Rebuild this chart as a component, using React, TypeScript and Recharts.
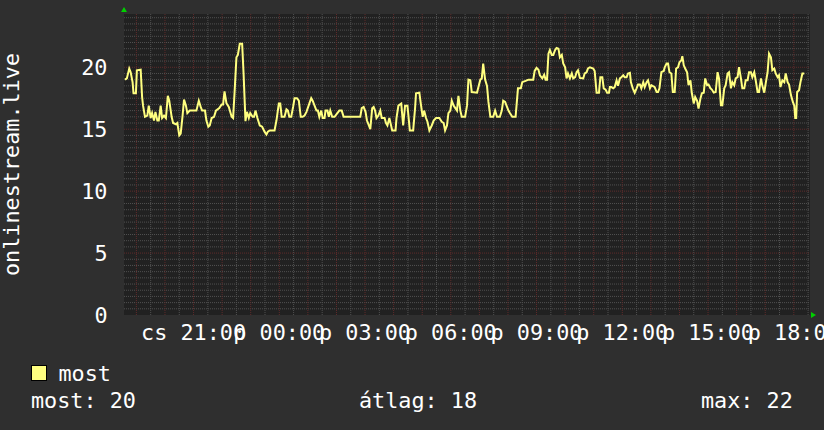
import {
  LineChart,
  Line,
  XAxis,
  YAxis,
  ReferenceArea,
  ReferenceLine,
  ReferenceDot,
} from "recharts";

// minutes since cs 18:34, one point per change
const minutes = [
  2, 6, 11, 14, 18, 20, 25, 27, 35, 38, 40, 44, 49, 52, 56, 59, 63, 66, 70, 73,
  77, 80, 84, 88, 92, 95, 100, 103, 109, 112, 116, 119, 123, 126, 130, 133, 138,
  152, 157, 161, 164, 170, 173, 177, 180, 184, 189, 193, 200, 205, 208, 211, 215,
  220, 226, 229, 232, 236, 239, 243, 248, 251, 255, 258, 262, 265, 270, 273, 276,
  280, 285, 290, 295, 299, 302, 306, 316, 320, 325, 328, 331, 337, 341, 344, 347,
  351, 355, 358, 363, 367, 371, 375, 379, 383, 389, 393, 396, 400, 404, 407, 410,
  414, 417, 421, 423, 427, 430, 433, 437, 442, 452, 457, 461, 496, 499, 503, 507,
  510, 514, 517, 521, 524, 527, 530, 534, 538, 541, 547, 550, 553, 557, 563, 570,
  572, 576, 582, 586, 590, 595, 600, 607, 611, 613, 620, 623, 627, 630, 634, 637,
  641, 646, 650, 655, 662, 667, 671, 674, 678, 681, 685, 688, 692, 699, 702, 706,
  709, 716, 720, 723, 727, 730, 741, 744, 748, 751, 754, 758, 762, 765, 769, 775,
  779, 783, 789, 793, 796, 800, 803, 807, 810, 815, 822, 827, 833, 836, 843, 849,
  859, 862, 866, 870, 873, 878, 882, 885, 888, 891, 894, 898, 901, 905, 908, 912,
  915, 919, 922, 926, 929, 932, 936, 940, 943, 947, 950, 953, 957, 964, 967, 971,
  974, 978, 985, 988, 992, 997, 1000, 1004, 1007, 1011, 1014, 1018, 1020, 1023,
  1027, 1030, 1034, 1037, 1041, 1044, 1048, 1051, 1055, 1058, 1062, 1064, 1068,
  1072, 1076, 1079, 1083, 1086, 1090, 1093, 1097, 1100, 1104, 1107, 1114, 1118,
  1121, 1124, 1128, 1133, 1135, 1139, 1142, 1145, 1149, 1152, 1156, 1159, 1163,
  1166, 1170, 1172, 1175, 1178, 1182, 1185, 1189, 1192, 1196, 1199, 1203, 1206,
  1210, 1213, 1217, 1220, 1224, 1227, 1231, 1234, 1238, 1242, 1246, 1249, 1253,
  1256, 1260, 1263, 1267, 1270, 1274, 1277, 1281, 1284, 1288, 1291, 1295, 1298,
  1302, 1305, 1309, 1312, 1316, 1319, 1323, 1326, 1330, 1333, 1337, 1340, 1344,
  1347, 1351, 1354, 1358, 1361, 1365, 1368, 1372, 1375, 1378, 1382, 1386, 1389,
  1393, 1396, 1400, 1404, 1407, 1409, 1411, 1413, 1417, 1420, 1424, 1428,
];

const viewers = [
  19.0, 19.1, 19.9, 19.6, 18.8, 17.9, 17.9, 19.75, 19.8, 17.6, 16.9, 16.0, 16.1,
  16.9, 15.9, 16.3, 15.7, 16.4, 15.7, 15.7, 16.9, 15.9, 16.1, 15.9, 17.7, 17.3,
  16.0, 15.5, 15.4, 15.5, 14.5, 14.65, 16.1, 17.4, 16.9, 16.3, 16.5, 16.5, 17.3,
  16.8, 16.5, 16.5, 15.7, 15.2, 15.3, 15.9, 16.0, 16.5, 16.7, 17.0, 17.0, 18.05,
  17.1, 16.8, 16.0, 15.9, 17.9, 20.8, 21.0, 21.9, 21.9, 19.5, 15.65, 16.4, 15.9,
  16.3, 16.0, 16.0, 16.5, 15.9, 15.3, 15.2, 14.8, 14.57, 14.8, 14.9, 14.9, 15.7,
  17.07, 17.07, 16.0, 16.0, 16.6, 16.5, 16.0, 16.0, 16.8, 17.5, 17.5, 17.3, 16.0,
  16.0, 16.1, 16.4, 17.07, 17.5, 17.3, 16.9, 16.5, 16.5, 16.0, 16.5, 15.9, 15.9,
  16.5, 16.5, 16.0, 16.5, 16.0, 16.0, 16.5, 16.5, 16.0, 16.0, 16.7, 16.8, 16.4,
  15.7, 15.3, 15.0, 16.7, 16.8, 16.5, 15.9, 16.1, 16.5, 15.9, 15.9, 15.5, 15.3,
  15.9, 14.9, 14.9, 15.9, 16.9, 17.07, 15.3, 16.9, 16.9, 14.9, 14.9, 16.7, 17.9,
  17.95, 17.07, 16.0, 16.5, 15.9, 15.6, 14.9, 15.3, 15.7, 15.9, 15.9, 15.6, 15.5,
  14.9, 15.3, 16.3, 16.5, 17.3, 16.9, 16.5, 17.7, 16.5, 16.0, 16.0, 16.9, 19.0,
  18.95, 18.0, 17.95, 18.4, 19.0, 19.1, 20.3, 19.0, 18.5, 17.2, 16.0, 16.0, 16.5,
  16.0, 16.0, 16.5, 17.3, 17.2, 16.9, 16.5, 16.3, 16.0, 16.0, 18.3, 18.3, 18.8,
  18.9, 19.0, 19.0, 19.7, 19.95, 19.8, 19.35, 19.1, 19.4, 19.0, 19.0, 21.1, 21.4,
  21.0, 21.0, 21.4, 21.56, 21.5, 20.8, 21.0, 20.3, 20.0, 19.1, 19.5, 19.1, 19.5,
  19.1, 19.2, 19.6, 19.76, 19.14, 19.1, 19.5, 19.6, 19.9, 20.0, 19.9, 19.7, 17.95,
  17.95, 19.2, 19.2, 18.3, 18.2, 17.95, 17.95, 18.4, 18.4, 18.3, 18.4, 18.95,
  18.5, 19.1, 19.2, 19.35, 19.2, 19.2, 19.5, 19.55, 18.8, 18.3, 17.95, 18.3, 18.6,
  18.6, 18.3, 18.8, 18.4, 18.8, 18.95, 18.3, 18.55, 18.4, 18.0, 18.0, 18.3, 19.6,
  19.7, 20.0, 20.3, 20.3, 19.6, 19.5, 18.0, 18.0, 19.9, 20.0, 20.4, 20.56, 20.9,
  20.16, 19.9, 19.6, 18.55, 18.95, 17.9, 17.07, 17.6, 17.3, 16.67, 17.47, 17.9,
  17.95, 19.1, 18.55, 18.6, 18.3, 18.2, 17.95, 18.0, 19.6, 19.1, 16.94, 16.94,
  18.3, 18.55, 19.5, 19.6, 18.3, 18.8, 18.55, 19.1, 19.2, 20.0, 19.1, 18.3, 18.3,
  18.95, 18.95, 19.6, 19.6, 19.2, 19.6, 18.95, 18.0, 18.0, 19.1, 18.5, 17.95, 18.7,
  19.6, 21.1, 20.8, 19.76, 19.9, 19.5, 19.2, 19.35, 18.4, 18.95, 18.8, 19.5, 18.8,
  18.6, 17.75, 17.2, 16.9, 15.9, 15.9, 18.0, 18.15, 18.8, 19.5, 19.5,
];

const tickMinutes = [146, 326, 506, 686, 866, 1046, 1226, 1406];
const tickLabels = [
  "cs 21:00",
  "p 00:00",
  "p 03:00",
  "p 06:00",
  "p 09:00",
  "p 12:00",
  "p 15:00",
  "p 18:00",
];
const yTicks = [0, 5, 10, 15, 20];

const seriesName = "most";
const yTitle = "onlinestream.live";
const lastValue = 20;
const avgValue = 18;
const maxValue = 22;

const SPAN = 1440;
const Y_MAX = 24.3;
const FONT = "'DejaVu Sans Mono', monospace";
const FS = 21.8;

const data = minutes.map((t, i) => ({ t, v: viewers[i] }));

// grid: minor every 30 min / 0.5, major every hour / 5
const hourLines: number[] = [];
const halfLines: number[] = [];
for (let m = 26; m <= SPAN; m += 60) hourLines.push(m);
for (let m = 56; m <= SPAN; m += 60) halfLines.push(m);
const minorY: number[] = [];
for (let k = 1; k <= 48; k++) if (k % 10 !== 0) minorY.push(k / 2);
const majorY = [5, 10, 15, 20];

const MINOR = "#505050";
const MAJOR = "#5f2b2b";

function XTick(props: any) {
  const { x, y, payload } = props;
  const label = tickLabels[tickMinutes.indexOf(payload.value)];
  return (
    <text x={x} y={y} dy={24.5} textAnchor="middle" fill="#fff" fontFamily={FONT} fontSize={FS}>
      {label}
    </text>
  );
}

function YTick(props: any) {
  const { x, y, payload } = props;
  return (
    <text x={x} y={y} dy={8} textAnchor="end" fill="#fff" fontFamily={FONT} fontSize={FS}>
      {payload.value}
    </text>
  );
}

export default function App() {
  return (
    <div
      style={{
        position: "absolute",
        left: 0,
        top: 0,
        width: 824,
        height: 430,
        background: "#2f2f2f",
        fontFamily: FONT,
        color: "#fff",
      }}
    >
      <LineChart
        width={824}
        height={430}
        data={data}
        margin={{ top: 14, right: 14, bottom: 85, left: 0 }}
      >
        <XAxis
          dataKey="t"
          type="number"
          domain={[0, SPAN]}
          ticks={tickMinutes}
          interval={0}
          allowDataOverflow
          axisLine={false}
          tickLine={false}
          tickSize={0}
          tickMargin={0}
          height={30}
          tick={<XTick />}
        />
        <YAxis
          type="number"
          domain={[0, Y_MAX]}
          ticks={yTicks}
          interval={0}
          allowDataOverflow
          width={124}
          axisLine={false}
          tickLine={false}
          tickSize={0}
          tickMargin={16.5}
          tick={<YTick />}
          label={() => (
            <text
              x={18.5}
              y={164.5}
              transform="rotate(-90 18.5 164.5)"
              textAnchor="middle"
              fill="#fff"
              fontFamily={FONT}
              fontSize={FS}
            >
              {yTitle}
            </text>
          )}
        />
        <ReferenceArea x1={0} x2={SPAN} y1={0} y2={Y_MAX} fill="#212121" fillOpacity={1} stroke="none" />
        {minorY.map((v) => (
          <ReferenceLine key={`my${v}`} y={v} stroke={MINOR} strokeDasharray="1 1" />
        ))}
        {halfLines.map((m) => (
          <ReferenceLine key={`mx${m}`} x={m} stroke={MINOR} strokeDasharray="1 1" />
        ))}
        {majorY.map((v) => (
          <ReferenceLine key={`My${v}`} y={v} stroke={MAJOR} strokeDasharray="1 1" />
        ))}
        {hourLines.map((m) => (
          <ReferenceLine key={`Mx${m}`} x={m} stroke={MAJOR} strokeDasharray="1 1" />
        ))}
        <Line
          dataKey="v"
          type="linear"
          stroke="#ffff80"
          strokeWidth={2}
          dot={false}
          isAnimationActive={false}
        />
        <ReferenceDot
          x={0}
          y={Y_MAX}
          ifOverflow="visible"
          shape={(p: any) => (
            <polygon
              points={`${p.cx - 3},${p.cy - 2} ${p.cx + 3},${p.cy - 2} ${p.cx},${p.cy - 7}`}
              fill="#00d000"
            />
          )}
        />
        <ReferenceDot
          x={SPAN}
          y={0}
          ifOverflow="visible"
          shape={(p: any) => (
            <polygon
              points={`${p.cx + 1},${p.cy - 3} ${p.cx + 1},${p.cy + 3} ${p.cx + 6},${p.cy}`}
              fill="#00d000"
            />
          )}
        />
      </LineChart>
      <div
        style={{
          position: "absolute",
          left: 31,
          top: 365,
          width: 14,
          height: 14,
          background: "#ffff80",
          border: "1px solid #000",
        }}
      />
      <div style={{ position: "absolute", left: 58.5, top: 362.6, fontSize: FS, lineHeight: 1, whiteSpace: "pre" }}>
        {seriesName}
      </div>
      <div style={{ position: "absolute", left: 31, top: 390.3, fontSize: FS, lineHeight: 1, whiteSpace: "pre" }}>
        {`most: ${lastValue}`}
      </div>
      <div style={{ position: "absolute", left: 359, top: 390.3, fontSize: FS, lineHeight: 1, whiteSpace: "pre" }}>
        {`átlag: ${avgValue}`}
      </div>
      <div style={{ position: "absolute", left: 701, top: 390.3, fontSize: FS, lineHeight: 1, whiteSpace: "pre" }}>
        {`max: ${maxValue}`}
      </div>
    </div>
  );
}
